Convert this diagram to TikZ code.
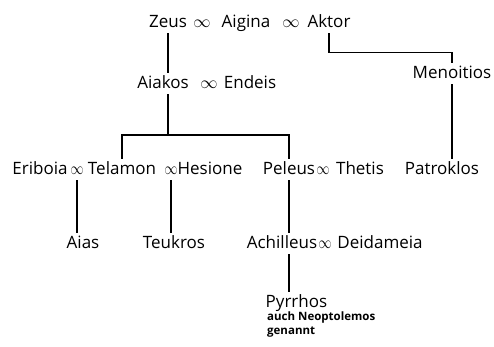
\documentclass[tikz,border=0pt]{standalone}
\usepackage{fontspec}
\setmainfont{Open Sans}
\begin{document}
\begin{tikzpicture}[x=1pt,y=-1pt,
    person/.style={inner xsep=0.5pt, inner ysep=2pt, text height=13pt, text depth=4pt,
      anchor=base, font=\fontsize{17}{20}\selectfont},
    wed/.style={inner xsep=0.5pt, inner ysep=2pt, text height=13pt, text depth=4pt,
      anchor=base, font=\fontsize{17}{20}\selectfont},
    note/.style={inner sep=0pt, anchor=north west, align=left,
      font=\fontsize{11.5}{14}\selectfont\bfseries},
    line/.style={line width=1.3pt}]
\newcommand{\narrowinf}{\scalebox{0.75}[1]{$\infty$}}
\useasboundingbox (0,0) rectangle (494,346);

% Row 1: Zeus, Aigina, Aktor
\node [person] (Zeus) at (168,27) {Zeus};
\node [wed] (m1) at (202,27) {$\infty$};
\node [person] (Aigina) at (246,27) {Aigina};
\node [wed] (m2) at (291,27) {$\infty$};
\node [person] (Aktor) at (329,27) {Aktor};

% Row 2: Aiakos, Endeis, Menoitios
\node [person] (Aiakos) at (163,88) {Aiakos};
\node [wed] (m3) at (209,88) {$\infty$};
\node [person] (Endeis) at (250,88) {Endeis};
\node [person] (Menoitios) at (452,78) {Menoitios};

% Row 3: sons of Aiakos and Patroklos
\node [person] (Eriboia) at (40,174) {Eriboia};
\node [wed] (m4) at (77,174) {\narrowinf};
\node [person] (Telamon) at (122,174) {Telamon};
\node [wed] (m5) at (171,174) {\narrowinf};
\node [person] (Hesione) at (210,174) {Hesione};
\node [person] (Peleus) at (289,174) {Peleus};
\node [wed] (m6) at (323,174) {\narrowinf};
\node [person] (Thetis) at (360,174) {Thetis};
\node [person] (Patroklos) at (442,174) {Patroklos};

% Row 4: grandsons
\node [person] (Aias) at (83,248) {Aias};
\node [person] (Teukros) at (174,248) {Teukros};
\node [person] (Achilleus) at (282,248) {Achilleus};
\node [wed] (m7) at (325,248) {\narrowinf};
\node [person] (Deidameia) at (380,248) {Deidameia};

% Row 5: Pyrrhos
\node [person, anchor=base west] (Pyrrhos) at (265,307) {Pyrrhos};
\node [note] (Pyrrhosnote) at (267,312) {auch Neoptolemos\\genannt};

% Drawing line Zeus -- Aiakos
\draw [line] (Zeus.south) -- (Zeus.south |- Aiakos.north);

% Drawing line Aktor -- Menoitios
\draw [line] (Aktor.south) -- ++(0,19) -| (Menoitios.north);

% Drawing line Menoitios -- Patroklos
\draw [line] (Menoitios.south) -- (Menoitios.south |- Patroklos.north);

% Drawing bar Aiakos -- Telamon, Peleus
\draw [line] (Zeus.south |- Aiakos.south) -- (Zeus.south |- 0,135);
\draw [line] (Telamon.north) |- (Zeus.south |- 0,135) -| (Peleus.north);

% Drawing lines to the grandsons
\draw [line] (m4.south) -- (m4.south |- Aias.north);
\draw [line] (m5.south) -- (m5.south |- Teukros.north);
\draw [line] (Peleus.south) -- (Peleus.south |- Achilleus.north);
\draw [line] (Peleus.south |- Achilleus.south) -- (Peleus.south |- Pyrrhos.north);
\end{tikzpicture}
\end{document}
